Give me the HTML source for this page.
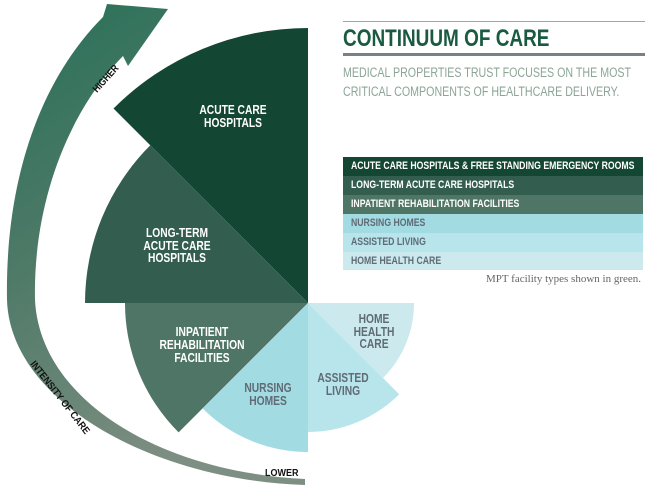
<!DOCTYPE html>
<html><head><meta charset="utf-8"><style>
html,body{margin:0;padding:0;background:#fff;}
body{width:651px;height:486px;overflow:hidden;position:relative;font-family:"Liberation Sans",sans-serif;}
.t{position:absolute;white-space:nowrap;}
.s{display:inline-block;transform-origin:0 0;transform:scaleX(0.79);}
.row{position:absolute;left:343px;width:300px;height:19px;font-weight:bold;font-size:11px;line-height:19px;padding-left:8px;box-sizing:border-box;white-space:nowrap;}
</style></head><body>
<svg width="651" height="486" style="position:absolute;left:0;top:0" font-family="Liberation Sans, sans-serif" font-weight="bold">
<defs><linearGradient id="g" x1="0" y1="0" x2="0.4" y2="1">
<stop offset="0" stop-color="#277058"/><stop offset="0.5" stop-color="#4f7a68"/><stop offset="1" stop-color="#7d8e82"/></linearGradient></defs>
<path d="M103,17 L107,4 L168,9 L128,66 L123,56 C70,110 33,200 35,300 C40,400 160,472 305,479 L305,485 C150,480 10,400 7,300 C5,180 40,80 103,17 Z" fill="url(#g)"/>
<path d="M308,303 L113.5,108.5 A275,275 0 0 1 308,28 Z" fill="#144634"/>
<path d="M308,303 L85,303 A223,223 0 0 1 150.3,145.3 Z" fill="#335e4f"/>
<path d="M308,303 L178.6,432.4 A183,183 0 0 1 125,303 Z" fill="#4e7566"/>
<path d="M308,303 L308,452 A149,149 0 0 1 202.6,408.4 Z" fill="#a3dbe3"/>
<path d="M308,303 L399.2,394.2 A129,129 0 0 1 308,432 Z" fill="#b8e4eb"/>
<path d="M308,303 L414,303 A106,106 0 0 1 383,378 Z" fill="#cce9ee"/>
<g fill="#fff" font-size="13" text-anchor="middle">
<text transform="translate(233,114) scale(0.79,1)">ACUTE CARE</text><text transform="translate(233,127) scale(0.79,1)">HOSPITALS</text>
<text transform="translate(177,237) scale(0.79,1)">LONG-TERM</text><text transform="translate(177,250) scale(0.79,1)">ACUTE CARE</text><text transform="translate(177,262) scale(0.79,1)">HOSPITALS</text>
<text transform="translate(202,336) scale(0.79,1)">INPATIENT</text><text transform="translate(202,349) scale(0.79,1)">REHABILITATION</text><text transform="translate(202,362) scale(0.79,1)">FACILITIES</text>
</g>
<g fill="#5f6b75" font-size="13" text-anchor="middle">
<text transform="translate(268,392) scale(0.79,1)">NURSING</text><text transform="translate(268,405) scale(0.79,1)">HOMES</text>
<text transform="translate(343,382) scale(0.79,1)">ASSISTED</text><text transform="translate(343,395) scale(0.79,1)">LIVING</text>
<text transform="translate(374,323) scale(0.79,1)">HOME</text><text transform="translate(374,336) scale(0.79,1)">HEALTH</text><text transform="translate(374,348) scale(0.79,1)">CARE</text>
</g>
<g fill="#111" font-size="10">
<text transform="translate(97,93) rotate(-48) scale(0.85,1)">HIGHER</text>
<text transform="translate(30,364) rotate(52) scale(0.9,1)">INTENSITY OF CARE</text>
<text transform="translate(265,476) scale(0.9,1)">LOWER</text>
</g>
</svg>
<div class="t" style="left:343px;top:21px;width:302px;height:1px;background:#a0a6ab"></div>
<div class="t" style="left:343px;top:25px;font-size:24px;font-weight:bold;color:#1a5a40;line-height:28px;"><span class="s">CONTINUUM OF CARE</span></div>
<div class="t" style="left:343px;top:53px;width:302px;height:3px;background:#7a8087"></div>
<div class="t" style="left:343px;top:64px;font-size:13.5px;color:#8ca597;line-height:18.5px;"><span class="s">MEDICAL PROPERTIES TRUST FOCUSES ON THE MOST<br>CRITICAL COMPONENTS OF HEALTHCARE DELIVERY.</span></div>
<div class="row" style="top:157px;background:#144634;color:#fff;"><span class="s">ACUTE CARE HOSPITALS &amp; FREE STANDING EMERGENCY ROOMS</span></div>
<div class="row" style="top:176px;background:#335e4f;color:#fff;"><span class="s">LONG-TERM ACUTE CARE HOSPITALS</span></div>
<div class="row" style="top:195px;background:#4e7566;color:#fff;"><span class="s">INPATIENT REHABILITATION FACILITIES</span></div>
<div class="row" style="top:214px;background:#a3dbe3;color:#5f6b75;"><span class="s">NURSING HOMES</span></div>
<div class="row" style="top:233px;background:#b8e4eb;color:#5f6b75;"><span class="s">ASSISTED LIVING</span></div>
<div class="row" style="top:252px;height:18px;background:#cce9ee;color:#5f6b75;"><span class="s">HOME HEALTH CARE</span></div>
<div class="t" style="right:10px;top:273px;font-family:'Liberation Serif',serif;font-size:11px;color:#666;">MPT facility types shown in green.</div>
</body></html>
